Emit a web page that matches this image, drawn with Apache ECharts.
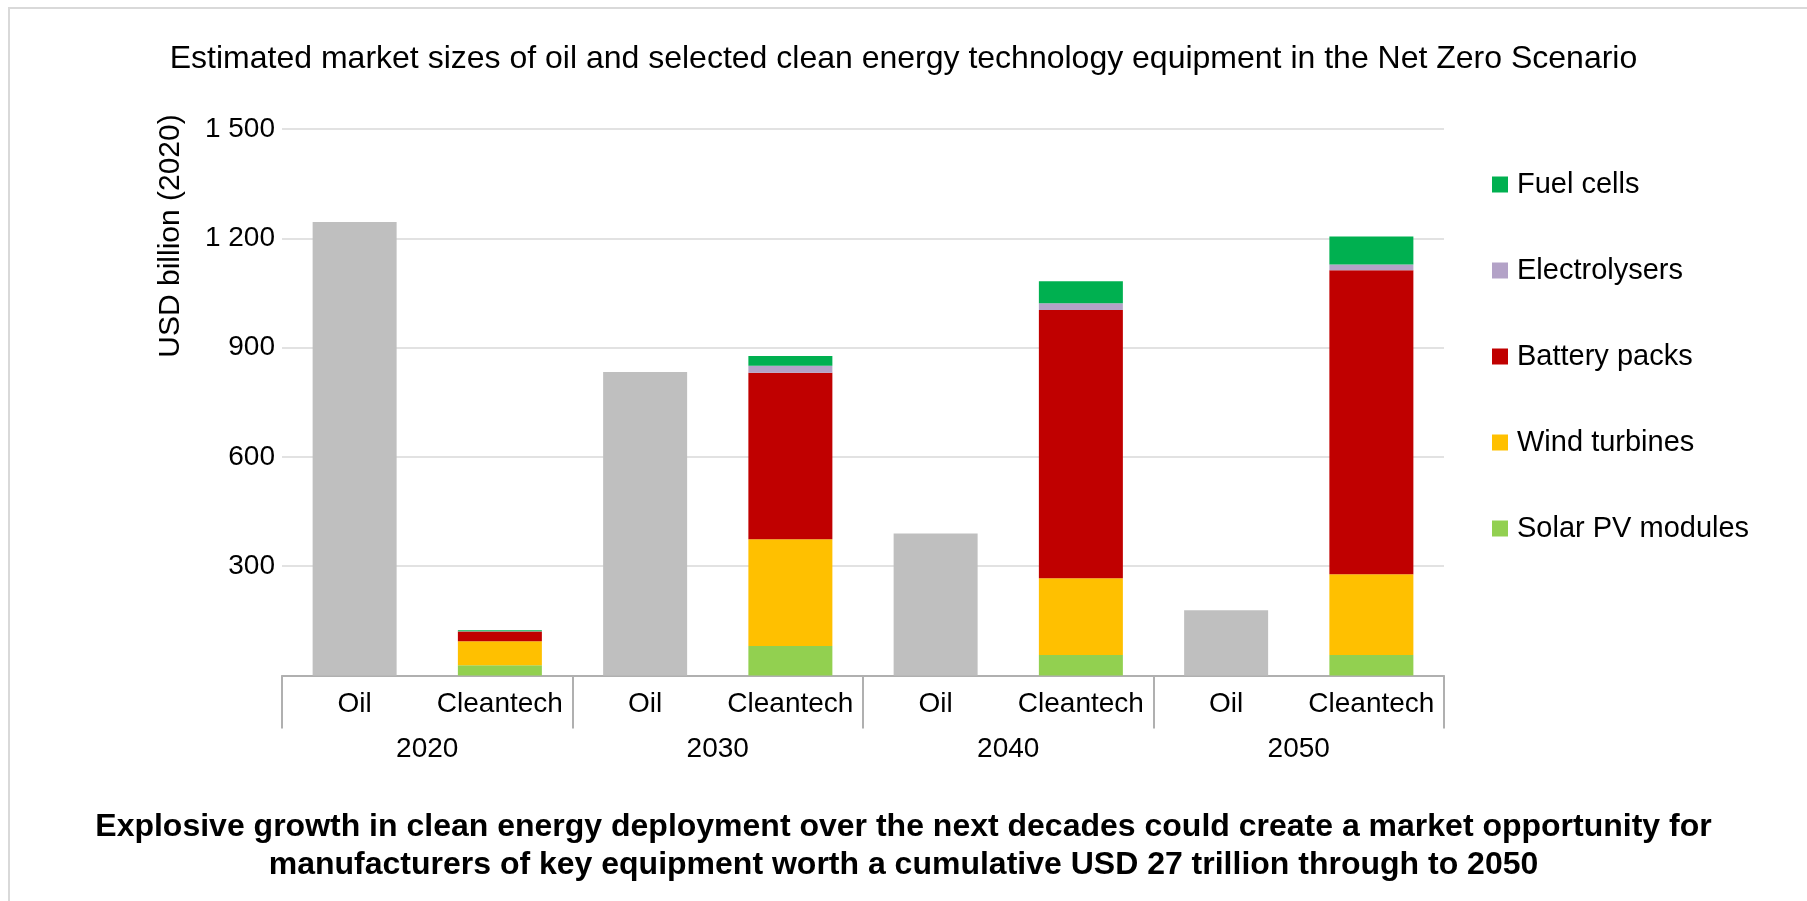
<!DOCTYPE html>
<html>
<head>
<meta charset="utf-8">
<title>Market sizes of oil and clean energy equipment</title>
<script src="https://cdn.jsdelivr.net/npm/echarts@6/dist/echarts.min.js"></script>
<style>
  html, body { margin: 0; padding: 0; background: #ffffff; }
  #chart { width: 1807px; height: 901px; }
</style>
</head>
<body>
<div id="chart"></div>
<script>
// Decades and the two bars shown per decade
const years = ['2020', '2030', '2040', '2050'];
const groups = ['Oil', 'Cleantech'];

// USD billion (2020)
const oil = [1245, 833, 390, 179];
const solarPV = [28, 81, 56, 56];
const windTurbines = [66, 293, 211, 222];
const batteryPacks = [27, 457, 736, 834];
const electrolysers = [0.3, 19, 19, 16];
const fuelCells = [2.7, 27, 60, 77];

// y-axis ticks
const yTicks = [0, 300, 600, 900, 1200, 1500];

const FONT = '"Liberation Sans", Arial, Helvetica, sans-serif';

// Eight slots: Oil / Cleantech for every decade
const slots = [];
years.forEach(() => groups.forEach(g => slots.push(g)));

function oilSlots(values) {
  const out = [];
  values.forEach(v => { out.push(v); out.push(null); });
  return out;
}
function cleanSlots(values) {
  const out = [];
  values.forEach(v => { out.push(null); out.push(v); });
  return out;
}

const techSeries = [
  { name: 'Solar PV modules', values: solarPV, color: '#92d050' },
  { name: 'Wind turbines', values: windTurbines, color: '#ffc000' },
  { name: 'Battery packs', values: batteryPacks, color: '#c00000' },
  { name: 'Electrolysers', values: electrolysers, color: '#b3a2c7' },
  { name: 'Fuel cells', values: fuelCells, color: '#00b050' }
];

const chart = echarts.init(document.getElementById('chart'), null, { renderer: 'canvas' });

const series = [{
  name: 'Oil',
  type: 'bar',
  stack: 'total',
  xAxisIndex: 0,
  barWidth: 84,
  itemStyle: { color: '#bfbfbf' },
  data: oilSlots(oil)
}].concat(techSeries.map(s => ({
  name: s.name,
  type: 'bar',
  stack: 'total',
  xAxisIndex: 0,
  barWidth: 84,
  itemStyle: { color: s.color },
  data: cleanSlots(s.values)
})));

chart.setOption({
  animation: false,
  backgroundColor: '#ffffff',
  textStyle: { fontFamily: FONT, color: '#000000' },
  title: {
    text: 'Estimated market sizes of oil and selected clean energy technology equipment in the Net Zero Scenario',
    left: 'center',
    top: 38,
    textStyle: { fontFamily: FONT, fontSize: 32, fontWeight: 'normal', color: '#000000' }
  },
  legend: {
    orient: 'vertical',
    left: 1487,
    top: 165,
    itemWidth: 16,
    itemHeight: 16,
    itemGap: 57,
    icon: 'rect',
    data: ['Fuel cells', 'Electrolysers', 'Battery packs', 'Wind turbines', 'Solar PV modules'],
    textStyle: { fontFamily: FONT, fontSize: 29, color: '#000000', lineHeight: 29, padding: [0, 0, 0, 4] }
  },
  grid: { left: 282, right: 363, top: 129, bottom: 225.5, containLabel: false },
  xAxis: [{
    type: 'category',
    data: slots,
    position: 'bottom',
    axisLine: { show: false },
    axisTick: { show: false },
    axisLabel: { margin: 14.5, fontSize: 28, fontFamily: FONT, color: '#000000', interval: 0 }
  }, {
    type: 'category',
    data: years,
    position: 'bottom',
    axisLine: { show: true, lineStyle: { color: '#b0b0b0', width: 2 } },
    axisTick: { show: true, length: 53, interval: 0, lineStyle: { color: '#b0b0b0', width: 2 } },
    axisLabel: { margin: 59.5, fontSize: 28, fontFamily: FONT, color: '#000000', interval: 0 }
  }],
  yAxis: {
    type: 'value',
    min: yTicks[0],
    max: yTicks[yTicks.length - 1],
    interval: yTicks[1] - yTicks[0],
    axisLine: { show: false },
    axisTick: { show: false },
    splitLine: { lineStyle: { color: '#d9d9d9', width: 1.5 } },
    axisLabel: {
      margin: 7,
      fontSize: 28,
      fontFamily: FONT,
      color: '#000000',
      formatter: v => (v === 0 ? '' : String(v).replace(/\B(?=(\d{3})+(?!\d))/g, ' '))
    }
  },
  graphic: [{
    type: 'rect',
    silent: true,
    shape: { x: 9, y: 8, width: 1810, height: 910 },
    style: { fill: 'none', stroke: '#d9d9d9', lineWidth: 2 }
  }, {
    type: 'text',
    silent: true,
    x: 171,
    y: 236,
    rotation: Math.PI / 2,
    style: {
      text: 'USD billion (2020)',
      fontFamily: FONT,
      fontSize: 30,
      fill: '#000000',
      align: 'center',
      verticalAlign: 'middle'
    }
  }, {
    type: 'text',
    silent: true,
    x: 903.5,
    y: 846,
    style: {
      text: 'Explosive growth in clean energy deployment over the next decades could create a market opportunity for\nmanufacturers of key equipment worth a cumulative USD 27 trillion through to 2050',
      fontFamily: FONT,
      fontSize: 32,
      fontWeight: 'bold',
      lineHeight: 38,
      fill: '#000000',
      align: 'center',
      verticalAlign: 'middle'
    }
  }],
  series: series
});
</script>
</body>
</html>
